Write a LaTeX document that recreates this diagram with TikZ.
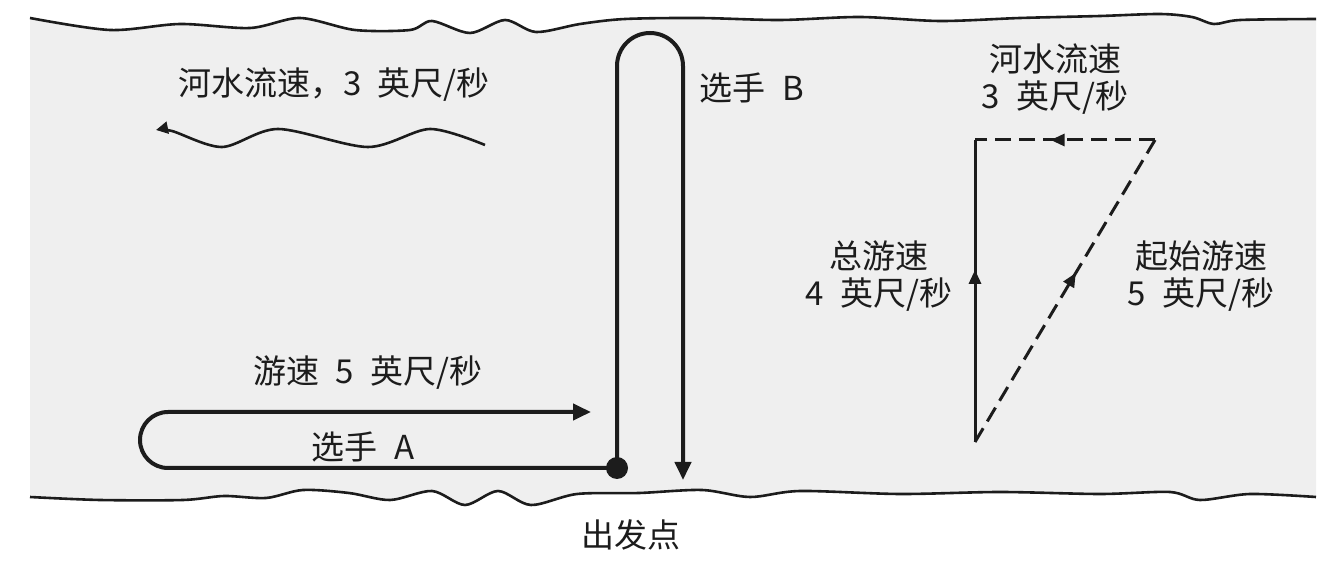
\documentclass[tikz,border=0pt]{standalone}
\usepackage{fontspec}
\setmainfont{Noto Sans CJK SC}
\usetikzlibrary{arrows.meta,decorations.markings}
\definecolor{river}{HTML}{EFEFEF}
\definecolor{ink}{HTML}{1C1C1C}
\newcommand\gap{\hspace{0.5em}}
\begin{document}
\begin{tikzpicture}[x=0.5pt,y=-0.5pt,
  lab/.style={font=\fontsize{16.5}{18.5}\selectfont, text=ink, inner sep=0pt, align=center},
  bank/.style={draw=ink, line width=1.3pt, line join=round},
  swim/.style={draw=ink, line width=2pt, line join=round},
  vec/.style={draw=ink, line width=1.5pt},
  dsh/.style={vec, dash pattern=on 8pt off 4pt},
  midarrow/.style={postaction={decorate}, decoration={markings, mark=at position #1 with {\arrow{Triangle[length=7pt,width=6pt]}}}}
]
\useasboundingbox (0,0) rectangle (1340,572);
% river band
\fill[river] plot[smooth] coordinates {(30,18) (110,30) (180,24) (250,28) (300,18) (355,30) (410,30) (432,21) (470,33) (505,20) (536,32) (580,24) (625,19) (700,18) (780,20) (860,17) (940,21) (1020,18) (1100,16) (1160,14) (1192,17) (1214,24) (1240,20) (1316,19)}
  -- (1316,497)
  -- plot[smooth] coordinates {(1316,497) (1250,494) (1200,500) (1170,492) (1100,494) (1000,492) (900,494) (800,491) (750,497) (702,490) (639,493) (577,494) (531,505) (498,491) (465,505) (432,491) (390,500) (349,493) (303,490) (266,498) (224,496) (183,500) (100,500) (30,497)}
  -- cycle;
\draw[bank] plot[smooth] coordinates {(30,18) (110,30) (180,24) (250,28) (300,18) (355,30) (410,30) (432,21) (470,33) (505,20) (536,32) (580,24) (625,19) (700,18) (780,20) (860,17) (940,21) (1020,18) (1100,16) (1160,14) (1192,17) (1214,24) (1240,20) (1316,19)};
\draw[bank] plot[smooth] coordinates {(1316,497) (1250,494) (1200,500) (1170,492) (1100,494) (1000,492) (900,494) (800,491) (750,497) (702,490) (639,493) (577,494) (531,505) (498,491) (465,505) (432,491) (390,500) (349,493) (303,490) (266,498) (224,496) (183,500) (100,500) (30,497)};
% river current arrow
\draw[bank, -{Triangle[length=6pt,width=6pt]}] plot[smooth] coordinates {(485,145) (430,129) (368,147) (278,129) (222,147) (172,131) (156,130)};
\node[lab] (flow) at (334,85) {河水流速，3\gap 英尺/秒};
% start point and swimmers
\node[circle, fill=ink, minimum size=11pt, inner sep=0pt] (start) at (617,468) {};
\coordinate (aturn) at (168,468);
\coordinate (aend) at (591,412);
\coordinate (bup) at (617,66);
\coordinate (bend) at (683,480);
\draw[swim, -{Triangle[length=9pt,width=8pt]}] (start.center) -- (aturn) arc[start angle=90, end angle=270, radius=28] -- (aend);
\draw[swim, -{Triangle[length=9pt,width=8pt]}] (start.center) -- (bup) arc[start angle=180, end angle=360, radius=33] -- (bend);
\node[lab] (speedA) at (368,373) {游速\gap 5\gap 英尺/秒};
\node[lab] (nameA) at (363,447) {选手\gap A};
\node[lab] (nameB) at (752,88) {选手\gap B};
\node[lab] (origin) at (631,535) {出发点};
% velocity triangle
\coordinate (p0) at (975,442);
\coordinate (p1) at (975,140);
\coordinate (p2) at (1155,140);
\draw[vec, midarrow=0.57] (p0) -- (p1);
\draw[dsh, midarrow=0.58] (p2) -- (p1);
\draw[dsh, midarrow=0.56] (p0) -- (p2);
\node[lab] (vflow) at (1055,79) {河水流速\\3\gap 英尺/秒};
\node[lab] (vtotal) at (879,276) {总游速\\4\gap 英尺/秒};
\node[lab] (vinit) at (1201,276) {起始游速\\5\gap 英尺/秒};
\end{tikzpicture}
\end{document}
